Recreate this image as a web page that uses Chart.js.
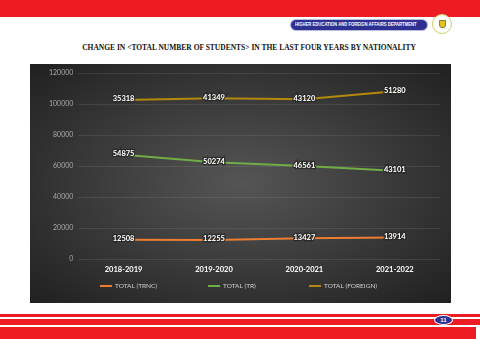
<!DOCTYPE html>
<html>
<head>
<meta charset="utf-8">
<script src="https://cdn.jsdelivr.net/npm/chart.js@4"></script>
<style>
  html, body { margin: 0; padding: 0; background: #fff; }
  body { width: 480px; height: 339px; position: relative; overflow: hidden; }
  .topband { position: absolute; left: 0; top: 0; width: 480px; height: 17px; background: #ed1c24; }
  .logo { position: absolute; left: 290px; top: 19px; width: 138px; height: 12px; border-radius: 6px;
    background: #2e3192; border: 1px solid #b8bde0; box-sizing: border-box; overflow: hidden; }
  .logo span { position: absolute; left: 4px; top: 1px; color: #fff; font: bold 6px "Liberation Sans", sans-serif;
    white-space: nowrap; transform-origin: left top; transform: scaleX(0.7); }
  .emblem { position: absolute; left: 432px; top: 14px; width: 20px; height: 20px; border-radius: 50%;
    background: #fff; border: 1px solid #c9cf6a; box-sizing: border-box; }
  .emblem div { position: absolute; left: 6px; top: 5px; width: 7px; height: 8px; background: #e8c21a;
    border-radius: 1px 1px 4px 4px; border: 1px solid #7a8a30; box-sizing: border-box; }
  .title { position: absolute; left: 0; top: 43px; width: 498px; text-align: center; color: #111;
    font: bold 7.5px "Liberation Serif", "DejaVu Serif", serif; white-space: nowrap; }
  .panel { position: absolute; left: 30px; top: 64px; width: 421px; height: 239px;
    background: radial-gradient(ellipse at 50% 50%, #555 0%, #383838 55%, #202020 100%); }
  .stripe { position: absolute; left: 0; width: 480px; background: #ed1c24; }
  .page { position: absolute; left: 434px; top: 315px; width: 19px; height: 10px; border-radius: 50%;
    background: #2e3192; border: 1px solid #fff; box-sizing: border-box; color: #fff;
    font: bold 6px "Liberation Sans", sans-serif; text-align: center; line-height: 8px; }
</style>
</head>
<body>
<div class="topband"></div>
<div class="logo"><span>HIGHER EDUCATION AND FOREIGN AFFAIRS DEPARTMENT</span></div>
<div class="emblem"><div></div></div>
<div class="title">CHANGE IN &lt;TOTAL NUMBER OF STUDENTS&gt; IN THE LAST FOUR YEARS BY NATIONALITY</div>
<div class="panel"><canvas id="studentsChart" width="421" height="239"></canvas></div>
<div class="stripe" style="top:314px;height:3px"></div>
<div class="stripe" style="top:319px;height:6px"></div>
<div class="stripe" style="top:327px;height:12px;width:476px"></div>
<div class="page">11</div>

<script>
var years = ['2018-2019', '2019-2020', '2020-2021', '2021-2022'];
var totalTrnc = [12508, 12255, 13427, 13914];
var totalTr = [54875, 50274, 46561, 43101];
var totalForeign = [35318, 41349, 43120, 51280];
var yTicks = [0, 20000, 40000, 60000, 80000, 100000, 120000];

var FONT = 'Lato, "Open Sans", sans-serif';

// writes the value of each point on top of the line
var valueLabels = {
  id: 'valueLabels',
  afterDatasetsDraw: function (chart) {
    var ctx = chart.ctx;
    ctx.save();
    ctx.font = 'bold 7.5px ' + FONT;
    ctx.textAlign = 'center';
    ctx.textBaseline = 'middle';
    chart.data.datasets.forEach(function (ds, i) {
      chart.getDatasetMeta(i).data.forEach(function (pt, j) {
        var txt = String(ds.data[j]);
        ctx.lineWidth = 2.5;
        ctx.strokeStyle = 'rgba(40,40,40,0.85)';
        ctx.strokeText(txt, pt.x, pt.y - 1);
        ctx.fillStyle = '#fff';
        ctx.fillText(txt, pt.x, pt.y - 1);
      });
    });
    ctx.restore();
  }
};

// excel style legend, items spread out wide along the bottom
var wideLegend = {
  id: 'wideLegend',
  afterDraw: function (chart) {
    var ctx = chart.ctx;
    var starts = [70, 178, 279];
    var y = 222;
    ctx.save();
    ctx.font = '6.5px ' + FONT;
    ctx.textBaseline = 'middle';
    ctx.textAlign = 'left';
    chart.data.datasets.forEach(function (ds, i) {
      var x = starts[i];
      ctx.strokeStyle = ds.borderColor;
      ctx.lineWidth = 2;
      ctx.beginPath();
      ctx.moveTo(x, y);
      ctx.lineTo(x + 12, y);
      ctx.stroke();
      ctx.fillStyle = '#d0d0d0';
      ctx.fillText(ds.label, x + 15, y);
    });
    ctx.restore();
  }
};

function buildLine() {
  var ctx = document.getElementById('studentsChart').getContext('2d');
  new Chart(ctx, {
    type: 'line',
    data: {
      labels: years,
      datasets: [{
        label: 'TOTAL (TRNC)',
        data: totalTrnc,
        borderColor: '#ed7d31',
        borderWidth: 2,
        pointRadius: 0,
        fill: false
      }, {
        label: 'TOTAL (TR)',
        data: totalTr,
        borderColor: '#70ad47',
        borderWidth: 2,
        pointRadius: 0,
        fill: false
      }, {
        label: 'TOTAL (FOREIGN)',
        data: totalForeign,
        borderColor: '#b38a0c',
        borderWidth: 2,
        pointRadius: 0,
        fill: false
      }]
    },
    options: {
      responsive: false,
      animation: false,
      layout: { padding: { left: 14, right: 11, top: 7, bottom: 23 } },
      scales: {
        x: {
          offset: true,
          grid: { display: false, drawTicks: false },
          border: { display: false },
          ticks: { color: '#fff', padding: 6, font: { family: FONT, size: 7.5, weight: 'bold' } }
        },
        y: {
          stacked: true,
          min: 0,
          max: 120000,
          afterBuildTicks: function (axis) {
            axis.ticks = yTicks.map(function (v) { return { value: v }; });
          },
          grid: { color: 'rgba(255,255,255,0.09)', drawTicks: false },
          border: { display: false },
          ticks: {
            color: '#a8a8a8', padding: 5, font: { family: FONT, size: 7 },
            callback: function (v) { return String(v); }
          }
        }
      },
      plugins: {
        tooltip: { enabled: false },
        legend: { display: false }
      }
    },
    plugins: [valueLabels, wideLegend]
  });
}

buildLine();
</script>
</body>
</html>
